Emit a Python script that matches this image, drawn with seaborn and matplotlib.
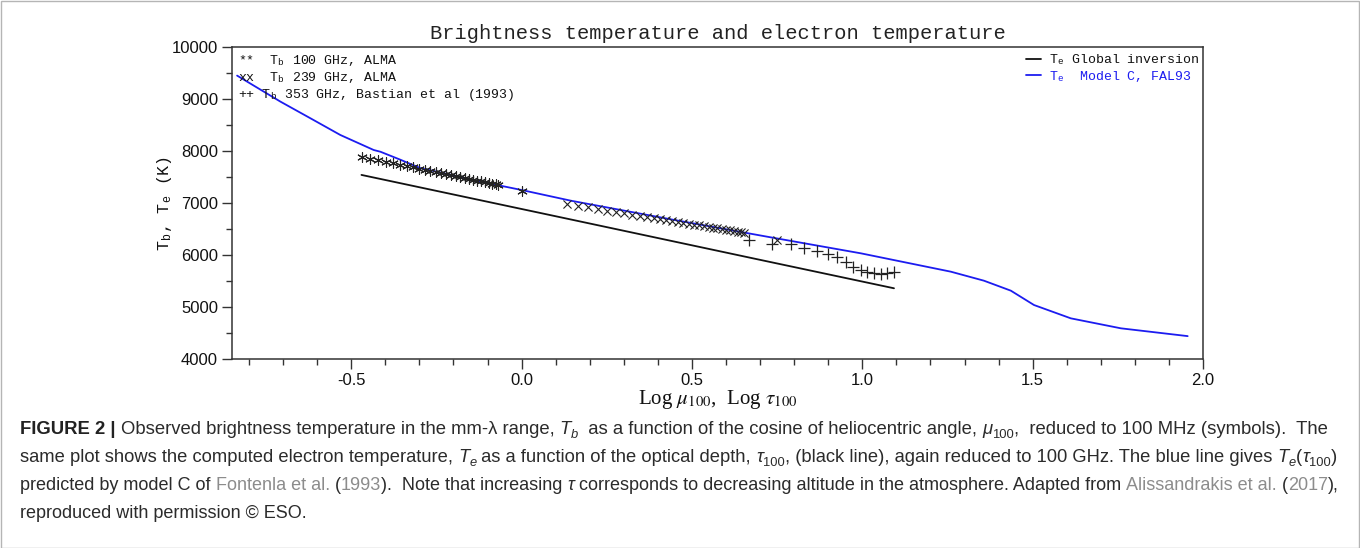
import numpy as np
import pandas as pd
import matplotlib
matplotlib.use("Agg")
import matplotlib.pyplot as plt
import seaborn as sns
from matplotlib import font_manager as fm
from matplotlib.patches import Rectangle
from matplotlib.ticker import MultipleLocator, FormatStrFormatter
import matplotlib.transforms as mtransforms

# ---------------- data ----------------
# T_b 100 GHz, ALMA  (asterisks)
alma100_x = [-0.4685, -0.4437, -0.4202, -0.3979, -0.3768, -0.3565, -0.3372, -0.3188,
             -0.3010, -0.2840, -0.2676, -0.2518, -0.2366, -0.2218, -0.2076, -0.1938,
             -0.1805, -0.1675, -0.1549, -0.1427, -0.1308, -0.1192, -0.1079, -0.0969,
             -0.0862, -0.0757, -0.0706, 0.0]
alma100_T = [7884, 7851, 7819, 7789, 7761, 7734, 7708, 7683,
             7659, 7636, 7614, 7593, 7573, 7553, 7534, 7515,
             7497, 7480, 7463, 7447, 7431, 7415, 7400, 7385,
             7371, 7357, 7350, 7240]
# T_b 239 GHz, ALMA  (x)
alma239_x = [0.134, 0.166, 0.196, 0.225, 0.252, 0.278, 0.302, 0.325, 0.347, 0.368,
             0.388, 0.407, 0.425, 0.442, 0.459, 0.475, 0.491, 0.506, 0.521, 0.535,
             0.549, 0.562, 0.575, 0.588, 0.600, 0.612, 0.623, 0.634, 0.644, 0.653, 0.749]
alma239_T = [6981, 6947, 6915, 6884, 6855, 6828, 6802, 6778, 6754, 6732,
             6711, 6691, 6671, 6653, 6635, 6618, 6601, 6585, 6569, 6554,
             6539, 6526, 6512, 6498, 6485, 6472, 6461, 6449, 6438, 6429, 6288]
# T_b 353 GHz, Bastian et al (1993)  (+)
bastian_x = [0.668, 0.736, 0.790, 0.829, 0.867, 0.898, 0.927, 0.951, 0.974, 0.996,
             1.015, 1.035, 1.054, 1.072, 1.093]
bastian_T = [6282, 6212, 6212, 6138, 6073, 6010, 5955, 5865, 5763, 5712,
             5672, 5647, 5640, 5647, 5679]
# T_e Global inversion (black line)
inv_x = [-0.470, 0.144, 0.692, 1.093]
inv_T = [7540, 6684, 5918, 5360]
# T_e Model C, FAL93 (blue line)
fal_x = [-0.835, -0.708, -0.620, -0.532, -0.434, -0.414, -0.355, -0.297, -0.218, -0.120,
         0.000, 0.144, 0.438, 0.731, 0.996, 1.260, 1.357, 1.436, 1.504, 1.612, 1.759, 1.955]
fal_T = [9450, 8950, 8630, 8308, 8019, 7985, 7830, 7670, 7558, 7410,
         7250, 7045, 6686, 6340, 6032, 5679, 5506, 5314, 5038, 4782, 4590, 4440]

title_text = "Brightness temperature and electron temperature"
left_labels = ["**  T$_\\mathregular{b}$ 100 GHz, ALMA",
               "xx  T$_\\mathregular{b}$ 239 GHz, ALMA",
               "++ T$_\\mathregular{b}$ 353 GHz, Bastian et al (1993)"]
line_labels = ["T$_\\mathregular{e}$ Global inversion", "T$_\\mathregular{e}$  Model C, FAL93"]
xlabel_text = "Log $\\mu_{100}$,  Log $\\tau_{100}$"
ylabel_text = "T$_\\mathregular{b}$, T$_\\mathregular{e}$ (K)"
x_ticks = [-0.5, 0.0, 0.5, 1.0, 1.5, 2.0]
y_ticks = [4000, 5000, 6000, 7000, 8000, 9000, 10000]

BLUE = "#1c1cf0"
W, H = 1360, 548

sns.set_style("ticks")


def has_font(name):
    try:
        fm.findfont(fm.FontProperties(family=name), fallback_to_default=False)
        return True
    except Exception:
        return False


MONO = "Liberation Mono"
SERIF = "Liberation Serif"
SANS = "Liberation Sans"
CAP = "Liberation Sans Narrow" if has_font("Liberation Sans Narrow") else "Liberation Sans"
plt.rcParams["font.family"] = [SANS, "DejaVu Sans"]
plt.rcParams["mathtext.fontset"] = "stix"

fig = plt.figure(figsize=(W / 100, H / 100), dpi=100)
fig.patch.set_facecolor("white")
ax = fig.add_axes([232 / W, 1 - 359 / H, (1203 - 232) / W, (359 - 47) / H])
ax.set_facecolor("white")

# lines
sns.lineplot(x=inv_x, y=inv_T, ax=ax, color="#111111", lw=1.3, label=line_labels[0])
sns.lineplot(x=fal_x, y=fal_T, ax=ax, color=BLUE, lw=1.3, label=line_labels[1])
# symbols
sns.scatterplot(x=alma100_x, y=alma100_T, ax=ax, marker=(6, 2, 0), s=48, color="#222222",
                linewidth=0.8, zorder=3)
sns.scatterplot(x=alma239_x, y=alma239_T, ax=ax, marker="x", s=34, color="#222222",
                linewidth=0.8, zorder=3)
sns.scatterplot(x=bastian_x, y=bastian_T, ax=ax, marker="+", s=70, color="#222222",
                linewidth=0.9, zorder=3)

ax.set_xlim(-0.85, 2.0)
ax.set_ylim(4000, 10000)
ax.set_xticks(x_ticks)
ax.set_yticks(y_ticks)
ax.xaxis.set_major_formatter(FormatStrFormatter("%.1f"))
ax.xaxis.set_minor_locator(MultipleLocator(0.1))
ax.yaxis.set_minor_locator(MultipleLocator(500))
ax.tick_params(which="major", direction="out", length=7, width=1.0, color="#333333",
               labelsize=12, pad=3, labelcolor="#111111")
ax.tick_params(which="minor", direction="out", length=4, width=1.0, color="#333333")
for lab in ax.get_xticklabels() + ax.get_yticklabels():
    lab.set_fontfamily(SANS)
for sp in ax.spines.values():
    sp.set_visible(True)
    sp.set_color("#333333")
    sp.set_linewidth(1.1)

ax.set_title(title_text, fontfamily=MONO, fontsize=14.7, pad=6, color="#222222")
ax.set_xlabel(xlabel_text, fontfamily=SERIF, fontsize=15, labelpad=0, color="#111111")
ax.set_ylabel(ylabel_text, fontfamily=MONO, fontsize=12, color="#111111")
ax.yaxis.set_label_coords((174 - 232) / 971, 0.5)

# upper-left symbol key (text)
key_tr = mtransforms.blended_transform_factory(fig.transFigure, ax.transAxes)
for i, s in enumerate(left_labels):
    ax.text(238 / W, 1 - (14 + 16.8 * i) / 312, s, transform=key_tr, fontfamily=MONO,
            fontsize=9.5, color="#111111", ha="left", va="center")

# upper-right line legend
leg = ax.legend(loc="upper right", bbox_to_anchor=(1.0, 0.995), frameon=False,
                prop={"family": MONO, "size": 9.5}, handlelength=1.1, handletextpad=0.6,
                borderaxespad=0.1, borderpad=0.2, labelspacing=0.12)
leg.get_texts()[0].set_color("#111111")
leg.get_texts()[1].set_color(BLUE)

# ---------------- caption ----------------
renderer = fig.canvas.get_renderer()
DARK = "#2b2b2b"
LINK = "#8c8c8c"


def props(kind, size):
    base = dict(fontfamily=CAP, fontsize=size, color=DARK)
    if kind == "b":
        base.update(fontweight="bold", color="#222222")
    elif kind == "i":
        base.update(fontstyle="italic")
    elif kind == "sub":
        base.update(fontsize=size * 0.7)
    elif kind == "subi":
        base.update(fontsize=size * 0.7, fontstyle="italic")
    elif kind == "link":
        base.update(color=LINK)
    return base


def seg_width(txt, pr):
    t1 = fig.text(0, 0, "X" + txt + "X", **pr)
    w1 = t1.get_window_extent(renderer).width
    t1.remove()
    t2 = fig.text(0, 0, "XX", **pr)
    w2 = t2.get_window_extent(renderer).width
    t2.remove()
    return w1 - w2


caption = [
    [("FIGURE 2 | ", "b"), ("Observed brightness temperature in the mm-\u03bb range, ", "n"), ("T", "i"),
     ("b", "subi"), ("  as a function of the cosine of heliocentric angle, ", "n"), ("\u03bc", "i"),
     ("100", "sub"), (",  reduced to 100 MHz (symbols).  The", "n")],
    [("same plot shows the computed electron temperature, ", "n"), ("T", "i"), ("e", "subi"),
     (" as a function of the optical depth, ", "n"), ("\u03c4", "i"), ("100", "sub"),
     (", (black line), again reduced to 100 GHz. The blue line gives ", "n"), ("T", "i"),
     ("e", "subi"), ("(", "n"), ("\u03c4", "i"), ("100", "sub"), (")", "n")],
    [("predicted by model C of ", "n"), ("Fontenla et al.", "link"), (" (", "n"), ("1993", "link"),
     (").  Note that increasing ", "n"), ("\u03c4", "i"),
     (" corresponds to decreasing altitude in the atmosphere. Adapted from ", "n"),
     ("Alissandrakis et al.", "link"), (" (", "n"), ("2017", "link"), ("),", "n")],
    [("reproduced with permission \u00a9 ESO.", "n")],
]
line_ends = [1336, 1341, 1338, None]

base_size = 10.0
sizes = []
for line, xe in zip(caption, line_ends):
    if xe is None:
        continue
    w = sum(seg_width(t, props(k, base_size)) for t, k in line)
    sizes.append(base_size * (xe - 20) / w)
line_sizes = sizes + [min(sizes)]

baselines = [434, 462, 490, 518]
for line, yb, sz in zip(caption, baselines, line_sizes):
    x = 20.0
    for txt, kind in line:
        pr = props(kind, sz)
        dy = 3.5 if kind in ("sub", "subi") else 0.0
        fig.text(x / W, 1 - (yb + dy) / H, txt, ha="left", va="baseline", **pr)
        x += seg_width(txt, pr)

fig.patches.append(Rectangle((0.5 / W, 0.5 / H), 1 - 1.5 / W, 1 - 1.5 / H, transform=fig.transFigure,
                             fill=False, edgecolor="#b5b5b5", lw=1.0))

fig.savefig("out.png", dpi=100, facecolor="white")
